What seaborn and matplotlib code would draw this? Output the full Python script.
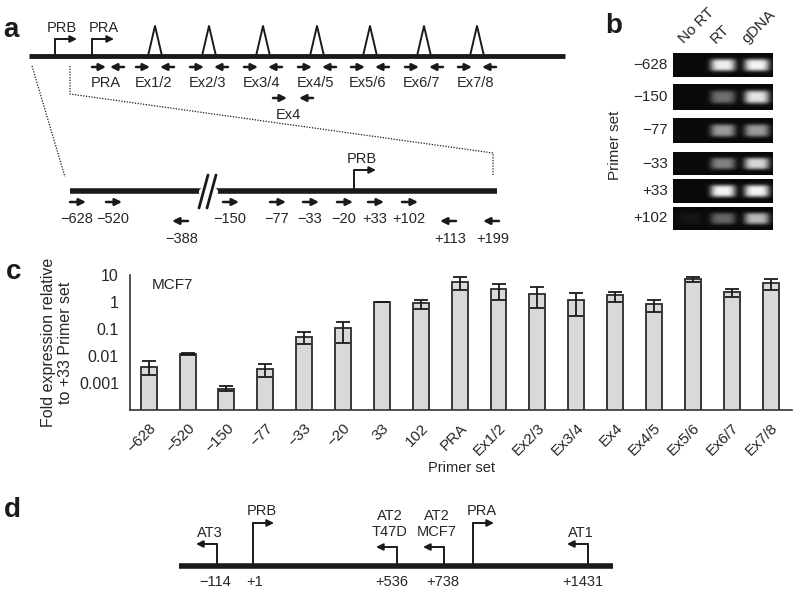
import numpy as np
import pandas as pd
import seaborn as sns
import matplotlib.pyplot as plt
from matplotlib.ticker import NullLocator, FixedLocator

sns.set_style("white")
plt.rcParams["font.family"] = ["Liberation Sans", "DejaVu Sans"]
plt.rcParams["font.size"] = 10.5

INK = "#1a1a1a"

# ---- panel c: fold expression (log scale) ----
primers = ["−628", "−520", "−150", "−77", "−33", "−20", "33", "102", "PRA",
           "Ex1/2", "Ex2/3", "Ex3/4", "Ex4", "Ex4/5", "Ex5/6", "Ex6/7", "Ex7/8"]
fold = [0.0039, 0.0122, 0.00062, 0.0033, 0.052, 0.105, 1.0, 0.89, 5.5,
        3.1, 2.0, 1.19, 1.8, 0.84, 7.1, 2.35, 5.0]
err_low = [0.0019, 0.0111, 0.0005, 0.0016, 0.029, 0.031, 1.0, 0.55, 2.9,
           1.2, 0.6, 0.3, 1.0, 0.43, 5.4, 1.5, 2.8]
err_high = [0.0063, 0.0133, 0.00075, 0.0050, 0.078, 0.18, 1.0, 1.15, 8.3,
            4.8, 3.6, 2.1, 2.4, 1.2, 8.3, 3.1, 7.3]
ytick_vals = [0.001, 0.01, 0.1, 1, 10]
ytick_labels = ["0.001", "0.01", "0.1", "1", "10"]

# ---- panel b: gel band intensities ----
gel_rows = ["−628", "−150", "−77", "−33", "+33", "+102"]
gel_lanes = ["No RT", "RT", "gDNA"]
band_nort = [0.0, 0.0, 0.0, 0.0, 0.0, 0.05]
band_rt = [0.95, 0.42, 0.6, 0.5, 0.97, 0.38]
band_gdna = [0.97, 0.9, 0.6, 0.85, 0.97, 0.72]
gel_tops = [53, 84, 118, 152, 179, 207]
gel_h = [24, 26, 25, 23, 24, 23]

# ---- panel a: gene diagram ----
exon_peaks = [155, 209, 263, 317, 370, 424, 477]
pair_labels = ["PRA", "Ex1/2", "Ex2/3", "Ex3/4", "Ex4/5", "Ex5/6", "Ex6/7", "Ex7/8"]
pair_centers = [108, 155, 209, 263, 317, 370, 424, 477]
pair_gaps = [2, 5, 5, 5, 5, 5, 5, 5]
fwd_labels = ["−628", "−520", "−150", "−77", "−33", "−20", "+33", "+102"]
fwd_start = [70, 106, 223, 270, 303, 337, 368, 402]
rev_labels = ["−388", "+113", "+199"]
rev_head = [172, 440, 483]

# ---- panel d: transcription start sites ----
tss_labels = ["AT3", "PRB", "AT2\nT47D", "AT2\nMCF7", "PRA", "AT1"]
tss_x = [217, 253, 397, 444, 473, 588]
tss_top = [544, 523, 547, 547, 523, 544]
tss_dir = [-1, 1, -1, -1, 1, -1]
tss_pos = ["−114", "+1", "+536", "+738", "+1431"]
tss_pos_x = [215, 255, 392, 443, 583]

fig = plt.figure(figsize=(8, 5.94), dpi=100)
ov = fig.add_axes([0, 0, 1, 1])
ov.set_xlim(0, 800)
ov.set_ylim(594, 0)
ov.axis("off")


def arrow(x0, y0, x1, y1, lw=1.8, ms=10):
    ov.annotate("", xy=(x1, y1), xytext=(x0, y0),
                arrowprops=dict(arrowstyle="-|>", color=INK, lw=lw,
                                mutation_scale=ms, shrinkA=0, shrinkB=0))


def promoter(x, ybase, ytop, d, length=22):
    ov.plot([x, x], [ybase, ytop], color=INK, lw=1.4)
    arrow(x, ytop, x + d * length, ytop, lw=1.4, ms=10)


# panel letters
for lab, (px, py) in zip("abcd", [(11, 30), (614, 26), (14, 272), (12, 510)]):
    ov.text(px, py, lab, fontsize=20, fontweight="bold", ha="center", va="center", color=INK)

# --- panel a top line with exons ---
ov.plot([29, 565], [56, 56], color=INK, lw=3.5, solid_capstyle="butt")
for p in exon_peaks:
    ov.plot([p - 7, p, p + 7], [56, 26, 56], color=INK, lw=1.4)
promoter(55, 56, 39, 1)
promoter(92, 56, 39, 1)
ov.text(62, 28, "PRB", ha="center", va="center")
ov.text(104, 28, "PRA", ha="center", va="center")
for lab, c, g in zip(pair_labels, pair_centers, pair_gaps):
    arrow(c - g - 14, 67, c - g, 67)
    arrow(c + g + 14, 67, c + g, 67)
    ov.text(c - 2, 83, lab, ha="center", va="center")
arrow(273, 98, 287, 98)
arrow(313, 98, 299, 98)
ov.text(288, 115, "Ex4", ha="center", va="center")

# zoom lines
ov.plot([32, 65], [66, 177], color=INK, lw=0.9, ls=(0, (1, 1.2)))
ov.plot([70, 70, 493, 493], [66, 94, 153, 176], color=INK, lw=0.9, ls=(0, (1, 1.2)))

# --- panel a lower line ---
ov.plot([70, 497], [191, 191], color=INK, lw=4, solid_capstyle="butt")
ov.plot([203, 214], [192, 192], color="white", lw=6)
ov.plot([199, 208], [208, 175], color=INK, lw=2)
ov.plot([207, 216], [208, 175], color=INK, lw=2)
promoter(354, 191, 170, 1)
ov.text(362, 159, "PRB", ha="center", va="center")
for lab, x0 in zip(fwd_labels, fwd_start):
    arrow(x0, 202, x0 + 16, 202)
    ov.text(x0 + 7, 219, lab, ha="center", va="center")
for lab, xh in zip(rev_labels, rev_head):
    arrow(xh + 16, 221, xh, 221)
    ov.text(xh + 10, 239, lab, ha="center", va="center")

# --- panel d ---
ov.plot([179, 613], [566, 566], color=INK, lw=4, solid_capstyle="butt")
lab_y = {523: 511, 544: 533, 547: 524}
for lab, x, top, d in zip(tss_labels, tss_x, tss_top, tss_dir):
    promoter(x, 566, top, d, length=21)
    ov.text(x + d * 9 if d > 0 else x - 7, lab_y[top], lab, ha="center", va="center",
            linespacing=1.15)
for lab, x in zip(tss_pos, tss_pos_x):
    ov.text(x, 582, lab, ha="center", va="center")

# --- panel b: gel strips ---
W, H = 200, 48
xs = np.linspace(0, 100, W)
for i, (row, top, h) in enumerate(zip(gel_rows, gel_tops, gel_h)):
    ys = np.linspace(0, 1, H)
    img = np.zeros((H, W))
    for cx, amp in zip([17, 50, 84], [band_nort[i], band_rt[i], band_gdna[i]]):
        prof_x = np.exp(-((xs - cx) / 12.5) ** 4)
        prof_y = np.exp(-((ys - 0.5) / 0.26) ** 4)
        img += amp * np.outer(prof_y, prof_x)
    img += 0.04
    gx = fig.add_axes([673 / 800, 1 - (top + h) / 594, 100 / 800, h / 594])
    gx.imshow(img, cmap="gray", vmin=0, vmax=1.05, aspect="auto", interpolation="bilinear")
    gx.set_xticks([])
    gx.set_yticks([])
    for s in gx.spines.values():
        s.set_visible(False)
    ov.text(668, top + h / 2, row, ha="right", va="center", fontsize=11)
for lab, x in zip(gel_lanes, [686, 718, 749]):
    ov.text(x, 46, lab, rotation=45, ha="left", va="bottom", rotation_mode="anchor", fontsize=11)
ov.text(615, 145, "Primer set", rotation=90, ha="center", va="center", fontsize=11)

# --- panel c: bar chart ---
df = pd.DataFrame({"primer": primers, "fold": fold})
ax = fig.add_axes([130 / 800, 1 - 410 / 594, 662 / 800, 135 / 594])
ax.patch.set_alpha(0)
ax.set_yscale("log")
sns.barplot(data=df, x="primer", y="fold", color="#d9d9d9", edgecolor="#2a2a2a",
            linewidth=1.3, width=0.41, errorbar=None, saturation=1, ax=ax)
fold_arr = np.array(fold)
yerr = [fold_arr - np.array(err_low), np.array(err_high) - fold_arr]
ax.errorbar(np.arange(len(primers)), fold_arr, yerr=yerr, fmt="none",
            ecolor=INK, elinewidth=1.3, capsize=4.7, capthick=1.3)
ax.set_ylim(1e-4, 10)
ax.set_xlim(-0.48, 16.55)
ax.yaxis.set_major_locator(FixedLocator(ytick_vals))
ax.yaxis.set_minor_locator(NullLocator())
ax.set_yticklabels(ytick_labels, fontsize=11.5)
ax.set_xticks(range(len(primers)))
ax.set_xticklabels(primers, rotation=45, ha="right", rotation_mode="anchor", fontsize=11)
ax.set_xticks(np.arange(len(primers)) + 0.5, minor=True)
ax.tick_params(axis="x", which="major", length=0, pad=8)
ax.tick_params(axis="x", which="minor", length=5, width=1, direction="out", color="#333")
ax.tick_params(axis="y", which="major", length=5, width=1, direction="out", color="#333", pad=3)
for s in ["top", "right"]:
    ax.spines[s].set_visible(False)
for s in ["left", "bottom"]:
    ax.spines[s].set_color("#333")
    ax.spines[s].set_linewidth(1.2)
ax.set_xlabel("Primer set", fontsize=10.5, labelpad=2)
ax.set_ylabel("Fold expression relative\nto +33 Primer set", fontsize=11.5, labelpad=4)
ax.text(152, 285, "MCF7", transform=ov.transData, ha="left", va="center", fontsize=11)

fig.savefig("out.png", dpi=100)
